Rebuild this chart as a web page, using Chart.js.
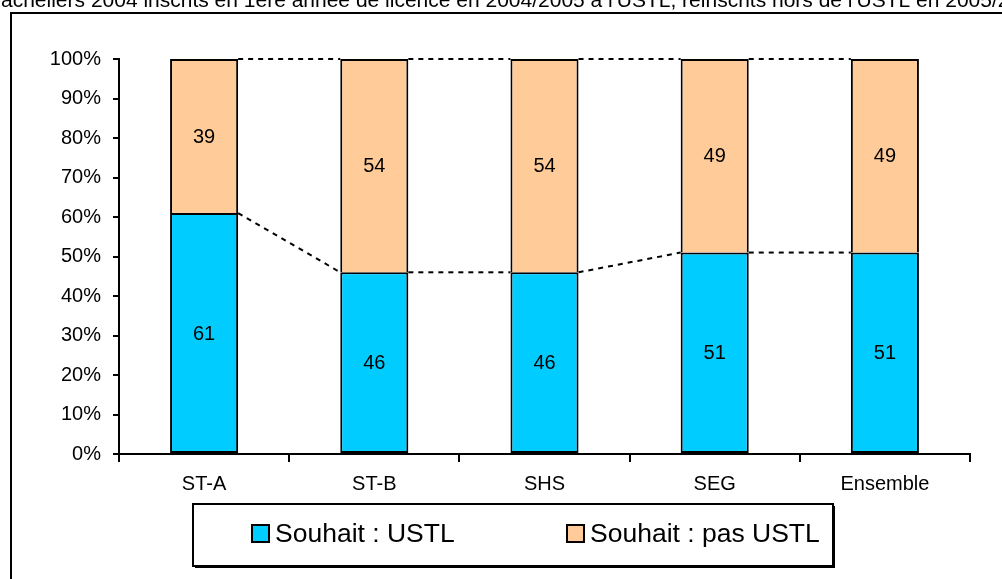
<!DOCTYPE html>
<html>
<head>
<meta charset="utf-8">
<script src="https://cdn.jsdelivr.net/npm/chart.js@4/dist/chart.umd.min.js"></script>
<style>
html,body{margin:0;padding:0;background:#fff;}
#c{display:block;}
</style>
</head>
<body>
<canvas id="c" width="1002" height="579"></canvas>
<script>
const titleText = "Bacheliers 2004 inscrits en 1ère année de licence en 2004/2005 à l'USTL, réinscrits hors de l'USTL en 2005/2006";
const categories = ["ST-A", "ST-B", "SHS", "SEG", "Ensemble"];
const seriesNames = ["Souhait : USTL", "Souhait : pas USTL"];
const ustl = [61, 46, 46, 51, 51];
const pasUstl = [39, 54, 54, 49, 49];
const yTicks = [0, 10, 20, 30, 40, 50, 60, 70, 80, 90, 100];
const colors = ["#00CCFF", "#FFCC99"];

const FONT = "'Liberation Sans', Arial, sans-serif";

const framePlugin = {
  id: 'frame',
  beforeDraw(chart) {
    const ctx = chart.ctx;
    ctx.save();
    ctx.fillStyle = '#fff';
    ctx.fillRect(0, 0, chart.width, chart.height);
    ctx.font = "21px " + FONT;
    ctx.fillStyle = '#000';
    ctx.textBaseline = 'alphabetic';
    ctx.textAlign = 'left';
    const bw = ctx.measureText("B").width;
    ctx.fillText(titleText, -bw + 1, 7);
    ctx.strokeStyle = '#000';
    ctx.lineWidth = 2;
    ctx.strokeRect(11, 13, 1200, 800);
    ctx.restore();
  }
};

const seriesLinesPlugin = {
  id: 'seriesLines',
  beforeDatasetsDraw(chart) {
    const ctx = chart.ctx;
    ctx.save();
    ctx.strokeStyle = '#000';
    ctx.lineWidth = 2;
    ctx.setLineDash([5, 5]);
    chart.data.datasets.forEach((ds, di) => {
      const meta = chart.getDatasetMeta(di);
      for (let i = 0; i < meta.data.length - 1; i++) {
        const a = meta.data[i], b = meta.data[i + 1];
        ctx.beginPath();
        ctx.moveTo(a.x + a.width / 2, a.y);
        ctx.lineTo(b.x - b.width / 2, b.y);
        ctx.stroke();
      }
    });
    ctx.restore();
  }
};

const labelsPlugin = {
  id: 'valueLabels',
  afterDatasetsDraw(chart) {
    const ctx = chart.ctx;
    ctx.save();
    ctx.font = "20px " + FONT;
    ctx.fillStyle = '#000';
    ctx.textAlign = 'center';
    ctx.textBaseline = 'middle';
    chart.data.datasets.forEach((ds, di) => {
      const meta = chart.getDatasetMeta(di);
      meta.data.forEach((el, i) => {
        ctx.fillText(String(ds.data[i]), el.x, (el.y + el.base) / 2 + 1);
      });
    });
    ctx.restore();
  }
};

const legendPlugin = {
  id: 'customLegend',
  afterDraw(chart) {
    const ctx = chart.ctx;
    ctx.save();
    const bx = 193, by = 504, bw = 640, bh = 62;
    ctx.fillStyle = '#000';
    ctx.fillRect(bx + 2, by + 2, bw, bh);
    ctx.fillStyle = '#fff';
    ctx.fillRect(bx, by, bw, bh);
    ctx.strokeStyle = '#000';
    ctx.lineWidth = 2;
    ctx.strokeRect(bx, by, bw, bh);
    const itemX = [252, 567];
    ctx.font = "26.5px " + FONT;
    ctx.textBaseline = 'middle';
    ctx.textAlign = 'left';
    chart.data.datasets.forEach((ds, di) => {
      const x = itemX[di];
      ctx.fillStyle = ds.backgroundColor;
      ctx.fillRect(x, 525, 17, 17);
      ctx.strokeStyle = '#000';
      ctx.lineWidth = 2;
      ctx.strokeRect(x, 525, 17, 17);
      ctx.fillStyle = '#000';
      ctx.fillText(ds.label, x + 23, 535);
    });
    ctx.restore();
  }
};

new Chart(document.getElementById('c'), {
  type: 'bar',
  data: {
    labels: categories,
    datasets: [
      { label: seriesNames[0], data: ustl, backgroundColor: colors[0], borderColor: '#000', borderWidth: 2, borderSkipped: false },
      { label: seriesNames[1], data: pasUstl, backgroundColor: colors[1], borderColor: '#000', borderWidth: 2, borderSkipped: 'start' }
    ]
  },
  options: {
    responsive: false,
    animation: false,
    devicePixelRatio: 1,
    layout: { padding: { top: 59, right: 32, left: 0, bottom: 0 } },
    datasets: { bar: { barPercentage: 0.4, categoryPercentage: 1 } },
    plugins: { legend: { display: false }, tooltip: { enabled: false }, title: { display: false } },
    scales: {
      x: {
        stacked: true,
        offset: true,
        grid: { offset: true, drawOnChartArea: false, drawTicks: true, tickLength: 8, color: '#000', lineWidth: 2 },
        border: { display: true, color: '#000', width: 2 },
        ticks: { color: '#000', font: { family: FONT, size: 20 }, padding: 10, maxRotation: 0 },
        afterFit(s) { s.height = 125; }
      },
      y: {
        stacked: true,
        min: 0, max: 100,
        afterBuildTicks(s) { s.ticks = yTicks.map(v => ({ value: v })); },
        grid: { drawOnChartArea: false, drawTicks: true, tickLength: 6, color: '#000', lineWidth: 2 },
        border: { display: true, color: '#000', width: 2 },
        ticks: { color: '#000', font: { family: FONT, size: 20 }, padding: 12, callback: v => v + '%' },
        afterFit(s) { s.width = 119; }
      }
    }
  },
  plugins: [framePlugin, seriesLinesPlugin, labelsPlugin, legendPlugin]
});
</script>
</body>
</html>
